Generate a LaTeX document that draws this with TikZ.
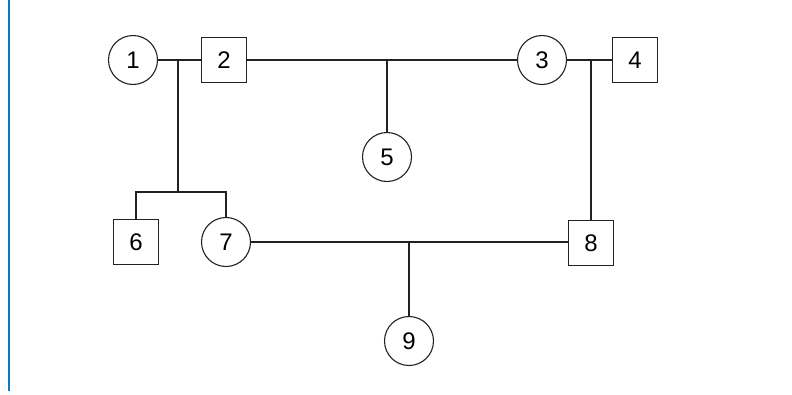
\documentclass[tikz,border=0pt]{standalone}
\usepackage{fontspec}
\setmainfont{Liberation Sans}
\usepackage{xcolor}
\usepackage{tikz}
\usetikzlibrary{positioning}
\definecolor{edgeblue}{HTML}{0A7BC2}
\definecolor{inkgray}{HTML}{222222}

\begin{document}
\begin{tikzpicture}[
  x=1pt,
  y=-1pt,
  female/.style={circle, draw=inkgray, line width=1.1pt, minimum size=49pt, inner sep=0pt},
  male/.style={rectangle, draw=inkgray, line width=1.1pt, minimum size=45pt, inner sep=0pt},
  tie/.style={draw=inkgray, line width=1.1pt},
  every node/.style={font=\fontsize{24}{28}\selectfont}
]
\useasboundingbox (0,0) rectangle (792,394);
\draw[edgeblue, line width=2pt] (8.5,0) -- (8.5,391);

% first generation
\node[female] (p1) at (133,60) {1};
\node[male] (p2) at (224,60) {2};
\node[female] (p3) at (542,60) {3};
\node[male] (p4) at (635,60) {4};
\coordinate (j12) at (178,60);
\coordinate (j23) at (387,60);
\coordinate (j34) at (591,60);

% second generation
\node[female] (p5) at (387,157) {5};
\node[male] (p6) at (136,242) {6};
\node[female] (p7) at (226,242) {7};
\node[male] (p8) at (591,243) {8};
\coordinate (sib) at (178,192);
\coordinate (j78) at (409,242);

% third generation
\node[female] (p9) at (409,341) {9};

\draw[tie] (p1) -- (p2);
\draw[tie] (p2) -- (p3);
\draw[tie] (p3) -- (p4);
\draw[tie] (j12) -- (sib);
\draw[tie] (p6.north) |- (sib) -| (p7.north);
\draw[tie] (j23) -- (p5);
\draw[tie] (j34) -- (p8);
\draw[tie] (p7) -- (p8.west |- p7);
\draw[tie] (j78) -- (p9);
\end{tikzpicture}
\end{document}
